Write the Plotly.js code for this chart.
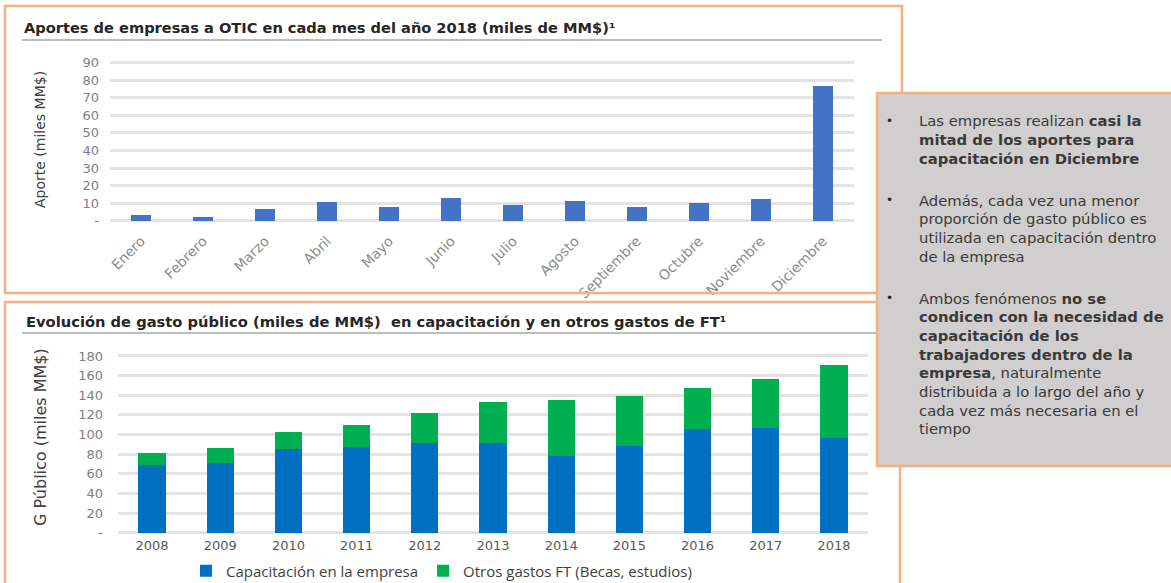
<!DOCTYPE html>
<html>
<head>
<meta charset="utf-8">
<script src="https://cdn.plot.ly/plotly-3.0.1.min.js"></script>
<style>html,body{margin:0;padding:0;background:#fff;}#chart{width:1171px;height:583px;}</style>
</head>
<body>
<div id="chart"></div>
<script>
// ---- Data ----
const months = ["Enero","Febrero","Marzo","Abril","Mayo","Junio","Julio","Agosto","Septiembre","Octubre","Noviembre","Diciembre"];
const aportes = [3.2, 2.3, 6.6, 10.4, 7.6, 12.7, 9.1, 11.0, 7.6, 9.9, 12.2, 76.5];
const years = ["2008","2009","2010","2011","2012","2013","2014","2015","2016","2017","2018"];
const capEmpresa = [68.7, 71.3, 85.5, 87.2, 91.3, 91.6, 78.0, 88.2, 105.2, 106.2, 96.4];
const otrosGastos = [12.2, 15.3, 16.9, 22.8, 30.7, 41.2, 57.0, 51.0, 42.4, 50.6, 74.2];
const topTickVals = [0,10,20,30,40,50,60,70,80,90];
const topTickText = ["-","10","20","30","40","50","60","70","80","90"];
const botTickVals = [0,20,40,60,80,100,120,140,160,180];
const botTickText = ["-","20","40","60","80","100","120","140","160","180"];
const seriesNames = ["Capacitación en la empresa","Otros gastos FT (Becas, estudios)"];
const bullet1 = ["Las empresas realizan <b>casi la</b>", "<b>mitad de los aportes para</b>", "<b>capacitación en Diciembre</b>"];
const bullet2 = ["Además, cada vez una menor", "proporción de gasto público es", "utilizada en capacitación dentro", "de la empresa"];
const bullet3 = ["Ambos fenómenos <b>no se</b>", "<b>condicen con la necesidad de</b>", "<b>capacitación de los</b>", "<b>trabajadores dentro de la</b>",
                 "<b>empresa</b>, naturalmente", "distribuida a lo largo del año y", "cada vez más necesaria en el", "tiempo"];

// ---- helpers (pixel -> paper) ----
const W = 1171, H = 583;
const X = p => p / W;
const Y = p => 1 - p / H;

const ORANGE = "#F4B183";
const DV = "DejaVu Sans, Verdana, sans-serif";
const traces = [
  {type:"bar", x: months, y: aportes, xaxis:"x", yaxis:"y", marker:{color:"#4472C4"}, showlegend:false, width:0.32},
  {type:"bar", x: years, y: capEmpresa, xaxis:"x2", yaxis:"y2", name: seriesNames[0], marker:{color:"#0070C0"}},
  {type:"bar", x: years, y: otrosGastos, xaxis:"x2", yaxis:"y2", name: seriesNames[1], marker:{color:"#00B050"}}
];

const tickFont = {family:DV, size:13, color:"#808080"};
const annotations = [
  {xref:"paper", yref:"paper", x:X(22), y:Y(27), xanchor:"left", yanchor:"middle", showarrow:false,
   text:"<b>Aportes de empresas a OTIC en cada mes del año 2018 (miles de MM$)¹</b>", font:{family:DV, size:14.6, color:"#262626"}},
  {xref:"paper", yref:"paper", x:X(24), y:Y(321), xanchor:"left", yanchor:"middle", showarrow:false,
   text:"<b>Evolución de gasto público (miles de MM$)  en capacitación y en otros gastos de FT¹</b>", font:{family:DV, size:14.7, color:"#262626"}},
  {xref:"paper", yref:"paper", x:X(40), y:Y(140), xanchor:"center", yanchor:"middle", showarrow:false, textangle:-90,
   text:"Aporte (miles MM$)", font:{family:DV, size:14, color:"#404040"}},
  {xref:"paper", yref:"paper", x:X(40), y:Y(437), xanchor:"center", yanchor:"middle", showarrow:false, textangle:-90,
   text:"G Público (miles MM$)", font:{family:DV, size:16, color:"#404040"}}
];
// text box lines
const LH = 18.7;
[[bullet1,121],[bullet2,200],[bullet3,298]].forEach(([lines, y0]) => {
  annotations.push({xref:"paper", yref:"paper", x:X(889), y:Y(y0), xanchor:"center", yanchor:"middle", showarrow:false,
                    text:"•", font:{size:12, color:"#262626"}});
  lines.forEach((t, i) => {
    annotations.push({xref:"paper", yref:"paper", x:X(917), y:Y(y0 + i*LH), xanchor:"left", yanchor:"middle", showarrow:false,
                      align:"left", text:t, font:{family:DV, size:14.8, color:"#3A3A3A"}});
  });
});

const layout = {
  width: W, height: H,
  margin:{l:0,r:0,t:0,b:0, autoexpand:false},
  paper_bgcolor:"#ffffff", plot_bgcolor:"rgba(0,0,0,0)",
  barmode:"stack",
  showlegend:true,
  font:{family:DV},
  xaxis:{domain:[X(110), X(854)], anchor:"y", type:"category", tickangle:-45, automargin:false, ticklabelstandoff:6,
         tickfont:{family:DV, size:14, color:"#8C8C8C"}, showgrid:false, zeroline:false, showline:false},
  yaxis:{domain:[Y(223.3), Y(60.07)], anchor:"x", range:[-1.5, 91.5], tickvals:topTickVals, ticktext:topTickText, automargin:false,
         tickfont:tickFont, gridcolor:"#E3E3E3", gridwidth:3, zeroline:false, showline:false, ticklabelstandoff:10},
  xaxis2:{domain:[X(118), X(868)], anchor:"y2", type:"category", automargin:false,
         tickfont:{family:DV, size:13, color:"#595959"}, showgrid:false, zeroline:false, showline:false},
  yaxis2:{domain:[Y(535.6), Y(353.05)], anchor:"x2", range:[-3, 183], tickvals:botTickVals, ticktext:botTickText, automargin:false,
         tickfont:tickFont, gridcolor:"#E3E3E3", gridwidth:3, zeroline:false, showline:false, ticklabelstandoff:14},
  bargap: 0.6,
  legend:{orientation:"h", x:X(186), y:Y(571), xanchor:"left", yanchor:"middle",
          font:{family:"Open Sans, sans-serif", size:15, color:"#404040"}, bgcolor:"rgba(0,0,0,0)", itemwidth:30, traceorder:"normal"},
  shapes:[
    {type:"rect", xref:"paper", yref:"paper", x0:X(5), x1:X(902), y0:Y(6), y1:Y(293), line:{color:ORANGE, width:2.5}, fillcolor:"rgba(0,0,0,0)"},
    {type:"rect", xref:"paper", yref:"paper", x0:X(5), x1:X(900), y0:Y(302), y1:Y(600), line:{color:ORANGE, width:2.5}, fillcolor:"rgba(0,0,0,0)"},
    {type:"line", xref:"paper", yref:"paper", x0:X(22), x1:X(882), y0:Y(40), y1:Y(40), line:{color:"#A6A6A6", width:1.5}},
    {type:"line", xref:"paper", yref:"paper", x0:X(22), x1:X(877), y0:Y(333), y1:Y(333), line:{color:"#A6A6A6", width:1.5}},
    {type:"rect", xref:"paper", yref:"paper", x0:X(877), x1:X(1175), y0:Y(93), y1:Y(466), line:{color:ORANGE, width:2.5}, fillcolor:"#D0CECE", layer:"above"}
  ],
  annotations: annotations
};

Plotly.newPlot("chart", traces, layout, {displayModeBar:false, staticPlot:true});
</script>
</body>
</html>
